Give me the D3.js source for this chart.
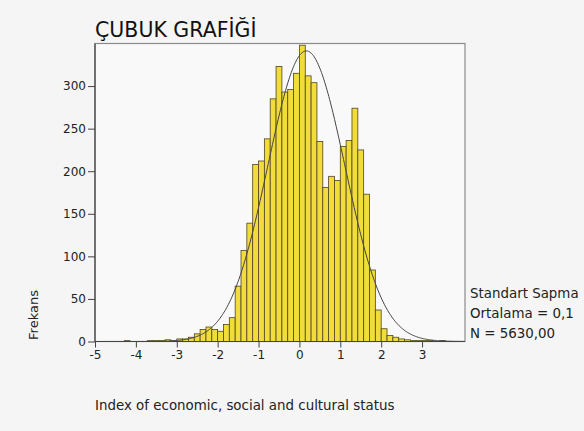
<!DOCTYPE html>
<html>
<head>
<meta charset="utf-8">
<script src="https://cdn.jsdelivr.net/npm/d3@7"></script>
<style>
  html, body { margin: 0; padding: 0; background: #f5f5f5; overflow: hidden; }
  svg { display: block; font-family: "DejaVu Sans", sans-serif; }
</style>
</head>
<body>
<svg id="chart" width="584" height="431"></svg>
<script>
// Histogram of the ESCS index: bins of width 1/7, first bin starts at -30/7
const binWidth = 1 / 7;
const firstBinIndex = -30;
const counts = [
  1, 0, 0, 0, 1, 1, 1, 2, 1,            // -30 .. -22
  3, 3, 5, 9, 14, 17, 14, 12, 20, 28,   // -21 .. -12
  65, 107, 139, 208, 212, 238, 285, 323, 293, 296, 315, // -11 .. -1
  348, 312, 304, 235, 181, 194, 189, 229, 236, 274, 225, 173, 84, 37, // 0 .. 13
  15, 7, 5, 3, 2, 1, 1, 1, 1, 0, 1      // 14 .. 24
];
const xTicks = [-5, -4, -3, -2, -1, 0, 1, 2, 3];
const yTicks = [0, 50, 100, 150, 200, 250, 300];
const statLines = ["Standart Sapma", "Ortalama = 0,1", "N = 5630,00"];
const curveMean = 0.17;
const curveSd = 0.94;
const curveN = 5630;

const svg = d3.select("#chart");
const plotLeft = 95, plotRight = 465, plotTop = 43.5, plotBottom = 341.5;

const x = d3.scaleLinear().domain([-5, 4.05]).range([plotLeft, plotRight]);
const y = d3.scaleLinear().domain([0, 350]).range([plotBottom, plotTop]);

// plot frame
svg.append("rect")
  .attr("x", plotLeft).attr("y", plotTop)
  .attr("width", plotRight - plotLeft).attr("height", plotBottom - plotTop)
  .attr("fill", "#f9f9f9")
  .attr("stroke", "#8a8a8a").attr("stroke-width", 1.2);

const bins = counts.map((c, i) => ({
  x0: (firstBinIndex + i) * binWidth,
  x1: (firstBinIndex + i + 1) * binWidth,
  count: c
})).filter(d => d.count > 0);

svg.append("g").selectAll("rect").data(bins).join("rect")
  .attr("x", d => x(d.x0))
  .attr("y", d => y(d.count))
  .attr("width", d => x(d.x1) - x(d.x0))
  .attr("height", d => y(0) - y(d.count))
  .attr("fill", "#f1dc3a")
  .attr("stroke", "#4f4622")
  .attr("stroke-width", 0.8);

// fitted normal curve
const normal = v => curveN * binWidth / (curveSd * Math.sqrt(2 * Math.PI)) *
  Math.exp(-0.5 * Math.pow((v - curveMean) / curveSd, 2));
const pts = d3.range(-5, 4.05, 0.02).map(v => [v, normal(v)]);
svg.append("path")
  .datum(pts)
  .attr("fill", "none")
  .attr("stroke", "#444")
  .attr("stroke-width", 1)
  .attr("d", d3.line().x(d => x(d[0])).y(d => y(d[1])).curve(d3.curveBasis));

// axes
const xAxis = svg.append("g")
  .attr("transform", `translate(0,${plotBottom})`)
  .call(d3.axisBottom(x).tickValues(xTicks).tickSize(6).tickPadding(3).tickFormat(d3.format("d")));
const yAxis = svg.append("g")
  .attr("transform", `translate(${plotLeft},0)`)
  .call(d3.axisLeft(y).tickValues(yTicks).tickSize(7).tickPadding(2));

[xAxis, yAxis].forEach(g => {
  g.select(".domain").attr("stroke", "#444").attr("stroke-width", 1.2);
  g.selectAll(".tick line").attr("stroke", "#444");
  g.selectAll(".tick text").attr("fill", "#222")
    .style("font-family", "DejaVu Sans").style("font-size", "12px");
});
xAxis.selectAll(".tick text").text(d => d < 0 ? "-" + Math.abs(d) : String(d));
xAxis.select(".domain").attr("d", `M${plotLeft},0H${plotRight}`);
yAxis.select(".domain").attr("d", `M0,${plotBottom}V${plotTop}`);

// title
svg.append("text")
  .attr("x", 95).attr("y", 37)
  .attr("fill", "#111")
  .style("font-size", "20.5px")
  .text("ÇUBUK GRAFİĞİ");

// axis labels
svg.append("text")
  .attr("transform", "translate(38,315) rotate(-90)")
  .attr("text-anchor", "middle")
  .attr("fill", "#222")
  .style("font-size", "13px")
  .text("Frekans");

svg.append("text")
  .attr("x", 95).attr("y", 410)
  .attr("fill", "#222")
  .style("font-size", "13.4px")
  .text("Index of economic, social and cultural status");

// summary statistics
svg.append("g").selectAll("text").data(statLines).join("text")
  .attr("x", 470)
  .attr("y", (d, i) => 298 + i * 20)
  .attr("fill", "#222")
  .style("font-size", "13.4px")
  .text(d => d);
</script>
</body>
</html>
